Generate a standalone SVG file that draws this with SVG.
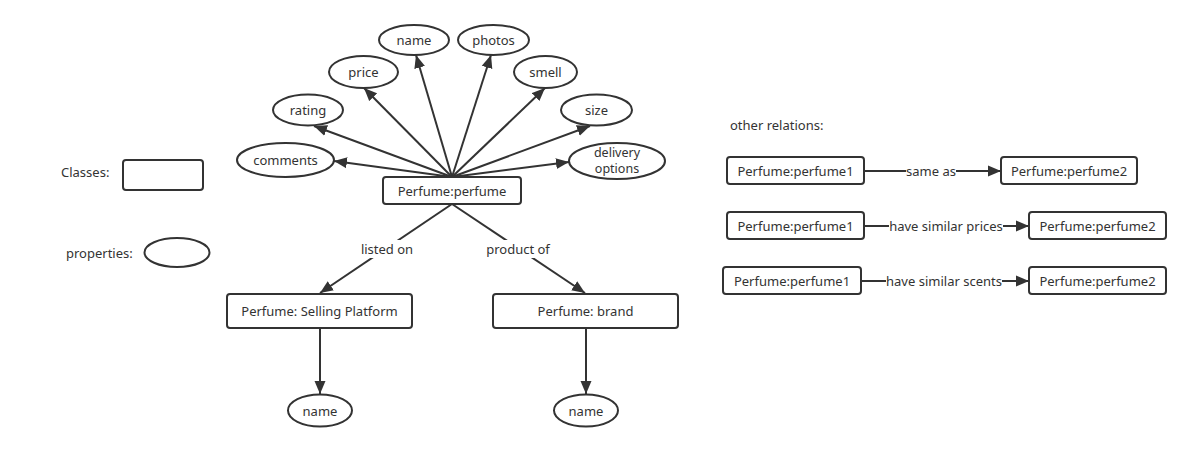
<svg xmlns="http://www.w3.org/2000/svg" width="1190" height="451" viewBox="0 0 1190 451">
<style>
.n{fill:#fff;stroke:#333;stroke-width:2}
.t{font-family:"Noto Sans","Open Sans",sans-serif;font-size:13px;fill:#333;text-anchor:middle;dominant-baseline:central}
.s{font-size:12.5px}
.l{font-family:"Noto Sans","Open Sans",sans-serif;font-size:13px;fill:#333;dominant-baseline:central}
.c{stroke:#333;stroke-width:2;fill:none;marker-end:url(#a)}
.bg{fill:#fff}
</style>
<defs>
<marker id="a" markerUnits="userSpaceOnUse" markerWidth="14" markerHeight="12" refX="13" refY="6" orient="auto" viewBox="0 0 14 12">
<path d="M0,0.5 L13,6 L0,11.5 z" fill="#333"/>
</marker>
</defs>
<rect width="1190" height="451" fill="#fff"/>
<g id="connectors">
<line class="c" x1="452" y1="177" x2="416" y2="55"/>
<line class="c" x1="452" y1="177" x2="491" y2="55"/>
<line class="c" x1="452" y1="177" x2="364" y2="88"/>
<line class="c" x1="452" y1="177" x2="545" y2="88"/>
<line class="c" x1="452" y1="177" x2="314" y2="126"/>
<line class="c" x1="452" y1="177" x2="590" y2="126"/>
<line class="c" x1="452" y1="177" x2="334" y2="161"/>
<line class="c" x1="452" y1="177" x2="569" y2="162"/>
<line class="c" x1="452" y1="204" x2="320" y2="293"/>
<line class="c" x1="452" y1="204" x2="585" y2="293"/>
<line class="c" x1="320" y1="328" x2="320" y2="394"/>
<line class="c" x1="586" y1="328" x2="586" y2="394"/>
<line class="c" x1="864" y1="171" x2="1001" y2="171"/>
<line class="c" x1="864" y1="226" x2="1029" y2="226"/>
<line class="c" x1="861" y1="281" x2="1029" y2="281"/>
<rect class="bg" x="358" y="240" width="58" height="18"/>
<text class="t" x="387" y="249">listed on</text>
<rect class="bg" x="484" y="240" width="68" height="18"/>
<text class="t" x="518" y="249">product of</text>
<rect class="bg" x="906" y="163" width="50" height="16"/>
<text class="t" x="931" y="171">same as</text>
<rect class="bg" x="889" y="218" width="114" height="16"/>
<text class="t" x="946" y="226">have similar prices</text>
<rect class="bg" x="886" y="273" width="116" height="16"/>
<text class="t" x="944" y="281">have similar scents</text>
</g>
<g id="legend">
<text class="l" x="61" y="172">Classes:</text>
<rect class="n" x="123" y="160" width="80" height="30" rx="3"/>
<text class="l" x="66" y="253">properties:</text>
<ellipse class="n" cx="177" cy="252.5" rx="32.5" ry="14.5"/>
<text class="l" x="730" y="125">other relations:</text>
</g>
<g id="perfume"><rect class="n" x="383" y="177" width="138" height="27" rx="3"/><text class="t" x="452" y="190.5">Perfume:perfume</text></g>
<g id="p-name"><ellipse class="n" cx="414" cy="40" rx="35" ry="15"/><text class="t" x="414" y="40">name</text></g>
<g id="p-photos"><ellipse class="n" cx="493.5" cy="40" rx="35.5" ry="15"/><text class="t" x="493.5" y="40">photos</text></g>
<g id="p-price"><ellipse class="n" cx="363.5" cy="72" rx="34.5" ry="16"/><text class="t" x="363.5" y="72">price</text></g>
<g id="p-smell"><ellipse class="n" cx="545.5" cy="72" rx="31.5" ry="16"/><text class="t" x="545.5" y="72">smell</text></g>
<g id="p-rating"><ellipse class="n" cx="308" cy="110" rx="35" ry="15.5"/><text class="t" x="308" y="110">rating</text></g>
<g id="p-size"><ellipse class="n" cx="596.5" cy="110" rx="35.5" ry="15.5"/><text class="t" x="596.5" y="110">size</text></g>
<g id="p-comments"><ellipse class="n" cx="285.5" cy="160" rx="48.5" ry="17"/><text class="t" x="285.5" y="160">comments</text></g>
<g id="p-delivery"><ellipse class="n" cx="617" cy="161" rx="48" ry="18"/><text class="t s" x="617" y="152.5">delivery</text><text class="t s" x="617" y="168.5">options</text></g>
<g id="platform"><rect class="n" x="227" y="294" width="185" height="34" rx="3"/><text class="t" x="319.5" y="311">Perfume: Selling Platform</text></g>
<g id="brand"><rect class="n" x="493" y="294" width="185" height="34" rx="3"/><text class="t" x="585.5" y="311">Perfume: brand</text></g>
<g id="platform-name"><ellipse class="n" cx="320" cy="410.5" rx="32" ry="16"/><text class="t" x="320" y="410.5">name</text></g>
<g id="brand-name"><ellipse class="n" cx="586" cy="410.5" rx="32" ry="16"/><text class="t" x="586" y="410.5">name</text></g>
<g id="r1a"><rect class="n" x="727" y="157" width="137" height="27" rx="3"/><text class="t" x="795.5" y="170.5">Perfume:perfume1</text></g>
<g id="r1b"><rect class="n" x="1001" y="157" width="136" height="27" rx="3"/><text class="t" x="1069" y="170.5">Perfume:perfume2</text></g>
<g id="r2a"><rect class="n" x="727" y="212" width="137" height="27" rx="3"/><text class="t" x="795.5" y="225.5">Perfume:perfume1</text></g>
<g id="r2b"><rect class="n" x="1029" y="212" width="137" height="27" rx="3"/><text class="t" x="1097.5" y="225.5">Perfume:perfume2</text></g>
<g id="r3a"><rect class="n" x="723" y="267" width="138" height="27" rx="3"/><text class="t" x="792" y="280.5">Perfume:perfume1</text></g>
<g id="r3b"><rect class="n" x="1029" y="267" width="137" height="27" rx="3"/><text class="t" x="1097.5" y="280.5">Perfume:perfume2</text></g>
</svg>
